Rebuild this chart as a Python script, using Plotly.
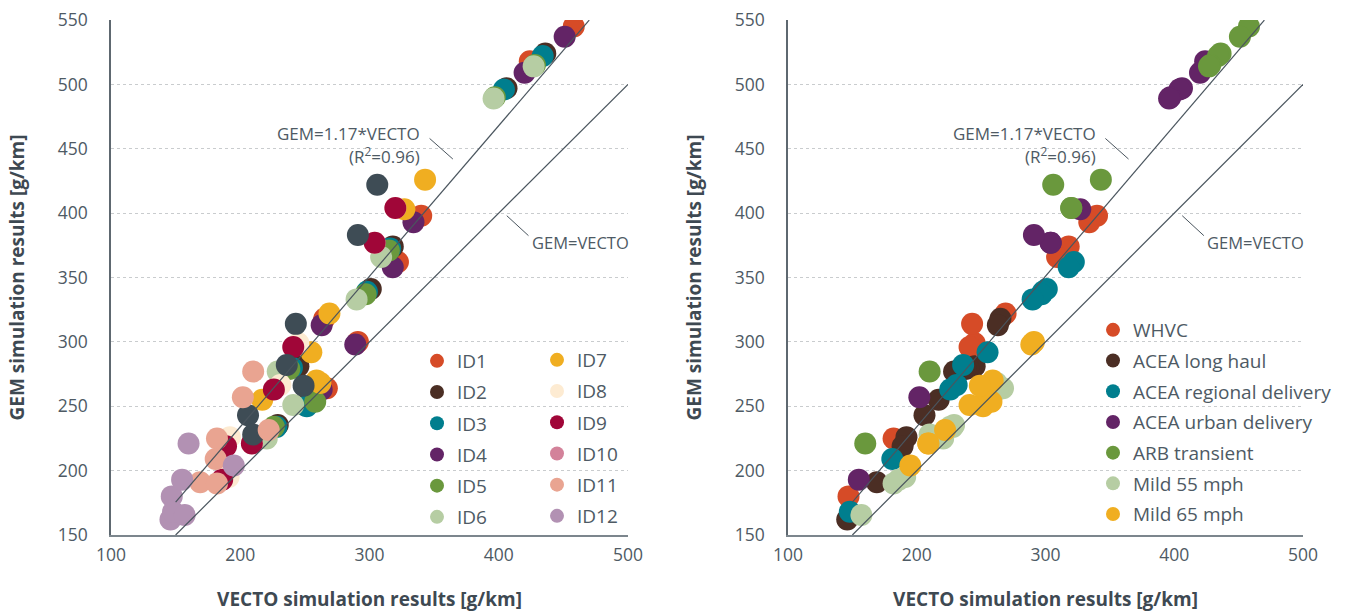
import plotly.graph_objects as go

# ---------------------------------------------------------------------------
# Data: CO2 results per vehicle, listed in the order of CYCLES
# ---------------------------------------------------------------------------
CYCLES = ["WHVC", "ACEA long haul", "ACEA regional delivery", "ACEA urban delivery",
          "ARB transient", "Mild 55 mph", "Mild 65 mph"]
VEHICLES = ["ID1", "ID2", "ID3", "ID4", "ID5", "ID6",
            "ID7", "ID8", "ID9", "ID10", "ID11", "ID12"]

# VECTO simulation results [g/km]
vecto_id1 = [340, 265, 322, 424, 458, 267, 291]
vecto_id2 = [318, 245, 301, 406, 436, 229, 250]
vecto_id3 = [316, 240, 298, 404, 434, 228, 251.5]
vecto_id4 = [334, 263, 318, 420, 451, 263, 289]
vecto_id5 = [315, 238, 297, 397, 428, 226, 258]
vecto_id6 = [309, 229, 290, 396, 427, 220.5, 241]
vecto_id7 = [269, 217, 255, 327, 343, 262, 259]
vecto_id8 = [245, 192, 231, 304, 320, 191, 209]
vecto_id9 = [241, 189, 226, 304, 320, 186, 209]
vecto_id10 = [243, 206, 236, 291, 306, 210, 249]
vecto_id11 = [182, 169, 181, 202, 210, 182, 222]
vecto_id12 = [147, 146, 148, 155, 160, 157, 195]

# GEM simulation results [g/km]
gem_id1 = [398, 318, 362, 518, 545, 264, 300]
gem_id2 = [374, 281, 341, 497, 524, 235.5, 251]
gem_id3 = [372.5, 280, 339, 496, 522, 234, 250]
gem_id4 = [393, 313, 358, 509, 537, 263, 298]
gem_id5 = [371, 279, 337, 490, 515, 234, 253.5]
gem_id6 = [366, 277, 333, 489, 514, 225, 251]
gem_id7 = [322, 255, 292, 403, 426, 268, 270]
gem_id8 = [299, 226, 266.5, 377, 404, 195, 221]
gem_id9 = [296, 219, 263, 377, 404, 193, 221]
gem_id10 = [314, 243, 282, 383, 422, 228, 266]
gem_id11 = [225, 191, 209, 257, 277, 190, 231.5]
gem_id12 = [180, 162, 168, 193, 221, 165.5, 204]

VECTO = [vecto_id1, vecto_id2, vecto_id3, vecto_id4, vecto_id5, vecto_id6,
         vecto_id7, vecto_id8, vecto_id9, vecto_id10, vecto_id11, vecto_id12]
GEM = [gem_id1, gem_id2, gem_id3, gem_id4, gem_id5, gem_id6,
       gem_id7, gem_id8, gem_id9, gem_id10, gem_id11, gem_id12]

FIT_SLOPE = 1.17
FIT_R2 = 0.96
FIT_X = [150, 470]
PARITY_X = [150, 500]

# ---------------------------------------------------------------------------
# Styling
# ---------------------------------------------------------------------------
VEHICLE_COLORS = ["#D64B27", "#4B2E24", "#007E8E", "#632466", "#6A983D", "#B6CDA3",
                  "#F0AE21", "#FDEBD2", "#A00638", "#D3829A", "#E9A491", "#B291B3"]
# ID10 is plotted in slate while its key keeps the pink swatch
VEHICLE_POINT_COLORS = VEHICLE_COLORS[:9] + ["#3E4C55"] + VEHICLE_COLORS[10:]
CYCLE_COLORS = ["#D64B27", "#4B2E24", "#007E8E", "#632466", "#6A983D", "#B6CDA3", "#F0AE21"]

FONT = "Open Sans"
TEXT = "#4E5A64"
TITLE = "#3E4952"
LINE = "#4A555E"
W, H = 1360, 614
MARKER = 22
KEY_MARKER = 14

fig = go.Figure()

# Left panel: coloured by vehicle
for i, vid in enumerate(VEHICLES):
    fig.add_trace(go.Scatter(
        x=VECTO[i], y=GEM[i], mode="markers", name=vid,
        marker=dict(size=MARKER, color=VEHICLE_POINT_COLORS[i], line=dict(width=0)),
        xaxis="x", yaxis="y", showlegend=False,
    ))

# Right panel: coloured by drive cycle
for j, cyc in enumerate(CYCLES):
    fig.add_trace(go.Scatter(
        x=[VECTO[i][j] for i in range(len(VEHICLES))],
        y=[GEM[i][j] for i in range(len(VEHICLES))],
        mode="markers", name=cyc,
        marker=dict(size=MARKER, color=CYCLE_COLORS[j], line=dict(width=0)),
        xaxis="x2", yaxis="y2", showlegend=False,
    ))

# Reference lines on top of the markers
for xa, ya in (("x", "y"), ("x2", "y2")):
    fig.add_trace(go.Scatter(
        x=FIT_X, y=[FIT_SLOPE * v for v in FIT_X], mode="lines",
        line=dict(color=LINE, width=1.2), xaxis=xa, yaxis=ya,
        showlegend=False, hoverinfo="skip"))
    fig.add_trace(go.Scatter(
        x=PARITY_X, y=PARITY_X, mode="lines",
        line=dict(color=LINE, width=1.2), xaxis=xa, yaxis=ya,
        showlegend=False, hoverinfo="skip"))

# Legend keys
for i, vid in enumerate(VEHICLES):
    fig.add_trace(go.Scatter(
        x=[None], y=[None], mode="markers", name=vid,
        marker=dict(size=KEY_MARKER, color=VEHICLE_COLORS[i]),
        legend="legend" if i < 6 else "legend2", legendgroup=vid,
        xaxis="x", yaxis="y"))
for j, cyc in enumerate(CYCLES):
    fig.add_trace(go.Scatter(
        x=[None], y=[None], mode="markers", name=cyc,
        marker=dict(size=KEY_MARKER, color=CYCLE_COLORS[j]),
        legend="legend3", legendgroup=cyc,
        xaxis="x2", yaxis="y2"))

# ---------------------------------------------------------------------------
# Axes
# ---------------------------------------------------------------------------
y_dom = [1 - 535 / H, 1 - 20 / H]
x_dom_left = [111 / W, 628 / W]
x_dom_right = [788 / W, 1303 / W]

xaxis_style = dict(
    range=[100, 500], dtick=100, tick0=100, showgrid=False, zeroline=False,
    showline=True, linecolor="#7C868D", linewidth=2, automargin=False,
    ticks="", tickfont=dict(family=FONT, size=17.5, color=TEXT),
    ticklabelstandoff=3,
    title=dict(text="<b>VECTO simulation results [g/km]</b>", standoff=28,
               font=dict(family=FONT, size=19, color=TITLE)),
)
yaxis_style = dict(
    range=[150, 550], dtick=50, tick0=150, showgrid=True,
    gridcolor="#C9CCCE", griddash="dot", gridwidth=1, zeroline=False,
    showline=True, linecolor="#5E6870", linewidth=1.5, automargin=False,
    ticks="", tickfont=dict(family=FONT, size=17.5, color=TEXT),
    ticklabelstandoff=18,
    title=dict(text="<b>GEM simulation results [g/km]</b>", standoff=28,
               font=dict(family=FONT, size=19, color=TITLE)),
)

LEGEND_FONT = dict(family=FONT, size=19, color=TEXT)

fig.update_layout(
    width=W, height=H, autosize=False,
    margin=dict(l=0, r=0, t=0, b=0),
    paper_bgcolor="white", plot_bgcolor="white",
    font=dict(family=FONT, color=TEXT),
    xaxis=dict(domain=x_dom_left, anchor="y", **xaxis_style),
    yaxis=dict(domain=y_dom, anchor="x", **yaxis_style),
    xaxis2=dict(domain=x_dom_right, anchor="y2", **xaxis_style),
    yaxis2=dict(domain=y_dom, anchor="x2", **yaxis_style),
    legend=dict(x=417 / W, y=1 - 342 / H, xanchor="left", yanchor="top",
                font=LEGEND_FONT, tracegroupgap=3.5, bgcolor="rgba(0,0,0,0)"),
    legend2=dict(x=537 / W, y=1 - 341 / H, xanchor="left", yanchor="top",
                 font=LEGEND_FONT, tracegroupgap=3.5, bgcolor="rgba(0,0,0,0)"),
    legend3=dict(x=1093 / W, y=1 - 311 / H, xanchor="left", yanchor="top",
                 font=LEGEND_FONT, tracegroupgap=3, bgcolor="rgba(0,0,0,0)"),
    showlegend=True,
)

# Line labels with short leader lines
for xa, ya in (("x", "y"), ("x2", "y2")):
    fig.add_annotation(x=340.8, y=461.5, xref=xa, yref=ya, xanchor="right", yanchor="middle",
                       text=f"GEM={FIT_SLOPE}*VECTO", showarrow=False,
                       font=dict(family=FONT, size=17, color=TEXT))
    fig.add_annotation(x=340.8, y=444.4, xref=xa, yref=ya, xanchor="right", yanchor="middle",
                       text=f"(R<sup>2</sup>={FIT_R2})", showarrow=False,
                       font=dict(family=FONT, size=17, color=TEXT))
    fig.add_annotation(x=424, y=376.8, xref=xa, yref=ya, xanchor="left", yanchor="middle",
                       text="GEM=VECTO", showarrow=False,
                       font=dict(family=FONT, size=16.5, color=TEXT))
    fig.add_shape(type="line", xref=xa, yref=ya, x0=346.5, y0=458, x1=364.5, y1=442,
                  line=dict(color=LINE, width=1))
    fig.add_shape(type="line", xref=xa, yref=ya, x0=406.2, y0=398, x1=423, y1=382.5,
                  line=dict(color=LINE, width=1))

fig.write_html("out.html")
